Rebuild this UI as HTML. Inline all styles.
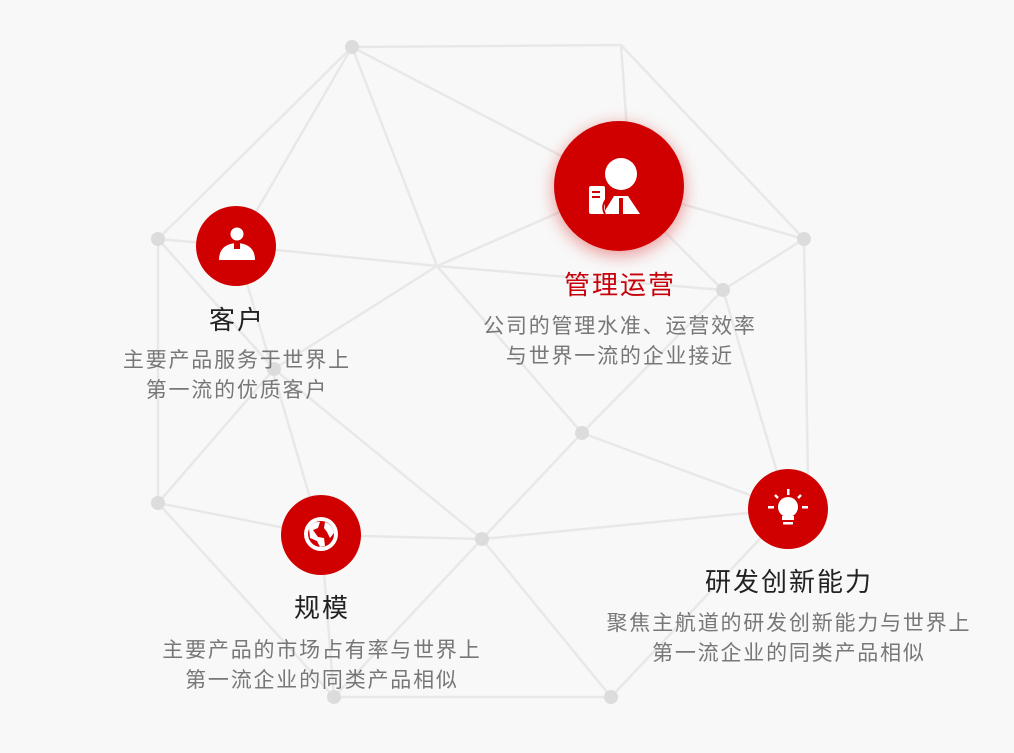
<!DOCTYPE html>
<html><head><meta charset="utf-8"><style>
html,body{margin:0;padding:0;background:#f8f8f8;}
body{width:1014px;height:753px;overflow:hidden;position:relative;font-family:"Liberation Sans","Noto Sans CJK SC",sans-serif;}
.t{position:absolute;text-align:center;white-space:nowrap;transform:translateX(-50%);}
.h{font-size:26px;color:#222;letter-spacing:2px;padding-left:2px;line-height:32px;}
.d{font-size:21px;color:#777;line-height:30px;letter-spacing:1.8px;padding-left:1.8px;}
</style></head><body>
<svg width="1014" height="753" style="position:absolute;left:0;top:0">
<defs><filter id="sh" x="-50%" y="-50%" width="200%" height="200%"><feGaussianBlur stdDeviation="8"/></filter></defs>
<g stroke="#e8e8e8" stroke-width="2.5" fill="none">
<line x1="352" y1="47" x2="621" y2="45"/>
<line x1="352" y1="47" x2="158" y2="239"/>
<line x1="352" y1="47" x2="437" y2="266"/>
<line x1="352" y1="47" x2="619" y2="186"/>
<line x1="352" y1="47" x2="236" y2="246"/>
<line x1="621" y1="45" x2="627" y2="130"/>
<line x1="621" y1="45" x2="804" y2="239"/>
<line x1="158" y1="239" x2="236" y2="246"/>
<line x1="236" y1="246" x2="437" y2="266"/>
<line x1="437" y1="266" x2="619" y2="186"/>
<line x1="437" y1="266" x2="723" y2="290"/>
<line x1="437" y1="266" x2="582" y2="433"/>
<line x1="437" y1="266" x2="274" y2="369"/>
<line x1="158" y1="239" x2="158" y2="503"/>
<line x1="158" y1="239" x2="274" y2="369"/>
<line x1="236" y1="246" x2="321" y2="535"/>
<line x1="274" y1="369" x2="158" y2="503"/>
<line x1="274" y1="369" x2="482" y2="539"/>
<line x1="158" y1="503" x2="321" y2="535"/>
<line x1="321" y1="535" x2="482" y2="539"/>
<line x1="158" y1="503" x2="334" y2="697"/>
<line x1="321" y1="535" x2="334" y2="697"/>
<line x1="482" y1="539" x2="582" y2="433"/>
<line x1="482" y1="539" x2="611" y2="697"/>
<line x1="482" y1="539" x2="788" y2="509"/>
<line x1="334" y1="697" x2="611" y2="697"/>
<line x1="334" y1="697" x2="482" y2="539"/>
<line x1="611" y1="697" x2="788" y2="509"/>
<line x1="582" y1="433" x2="788" y2="509"/>
<line x1="582" y1="433" x2="723" y2="290"/>
<line x1="723" y1="290" x2="804" y2="239"/>
<line x1="804" y1="239" x2="808" y2="480"/>
<line x1="723" y1="290" x2="788" y2="509"/>
<line x1="619" y1="186" x2="723" y2="290"/>
<line x1="619" y1="186" x2="804" y2="239"/>
</g>
<g fill="#dcdcdc">
<circle cx="352" cy="47" r="7"/><circle cx="158" cy="239" r="7"/><circle cx="804" cy="239" r="7"/>
<circle cx="723" cy="290" r="7"/><circle cx="582" cy="433" r="7"/><circle cx="158" cy="503" r="7"/>
<circle cx="482" cy="539" r="7"/><circle cx="611" cy="697" r="7"/><circle cx="334" cy="697" r="7"/>
<circle cx="274" cy="369" r="7"/>
</g>
<circle cx="619" cy="190" r="66" fill="#e05050" opacity="0.55" filter="url(#sh)"/>
<circle cx="619" cy="186" r="65" fill="#d00000"/>
<circle cx="236" cy="246" r="40" fill="#d00000"/>
<circle cx="321" cy="535" r="40" fill="#d00000"/>
<circle cx="788" cy="509" r="40" fill="#d00000"/>
<g fill="#fff">
<circle cx="621" cy="174" r="16"/>
<path d="M603 214 L614 196 L628 196 L640 214 Z"/>
<rect x="589" y="186" width="16" height="28" rx="2"/>
</g>
<rect x="592" y="191" width="8" height="2" fill="#d00000"/><rect x="592" y="196" width="8" height="2" fill="#d00000"/>
<path d="M605 214 Q600 205 609 196" stroke="#d00000" stroke-width="2" fill="none"/>
<rect x="619" y="198" width="4" height="16" fill="#d00000"/>
<g fill="#fff"><circle cx="237" cy="234" r="6.5"/><path d="M219 260 Q219 244 237 243 Q255 244 255 260 Z"/></g>
<rect x="234" y="243" width="6" height="6" fill="#d00000"/>
<circle cx="321" cy="534" r="17" fill="#fff"/>
<circle cx="321" cy="534" r="13" fill="#d00000"/>
<path fill="#fff" d="M309 528 Q314 521 320 522 L318 528 L313 530 L318 537 L324 538 L325 546 L320 547 L317 541 L310 538 Z M325 522 Q333 525 334 533 L330 538 L327 532 L324 528 Z"/>
<g fill="#fff"><circle cx="788" cy="507" r="10"/><rect x="782" y="516" width="12" height="4"/><rect x="783" y="522" width="10" height="2.5"/>
<rect x="787" y="489" width="2.5" height="6"/><rect x="768" y="506" width="6" height="2.5"/><rect x="802" y="506" width="6" height="2.5"/></g>
<g stroke="#fff" stroke-width="2.5"><line x1="775" y1="495" x2="778" y2="498"/><line x1="801" y1="495" x2="798" y2="498"/></g>
</svg>
<div class="t h" style="left:236px;top:304px">客户</div>
<div class="t d" style="left:236px;top:346px">主要产品服务于世界上<br>第一流的优质客户</div>
<div class="t h" style="left:619px;top:269px;color:#c8000a">管理运营</div>
<div class="t d" style="left:619px;top:312px">公司的管理水准、运营效率<br>与世界一流的企业接近</div>
<div class="t h" style="left:321px;top:592px">规模</div>
<div class="t d" style="left:321px;top:636px">主要产品的市场占有率与世界上<br>第一流企业的同类产品相似</div>
<div class="t h" style="left:788px;top:566px">研发创新能力</div>
<div class="t d" style="left:788px;top:609px">聚焦主航道的研发创新能力与世界上<br>第一流企业的同类产品相似</div>
</body></html>
